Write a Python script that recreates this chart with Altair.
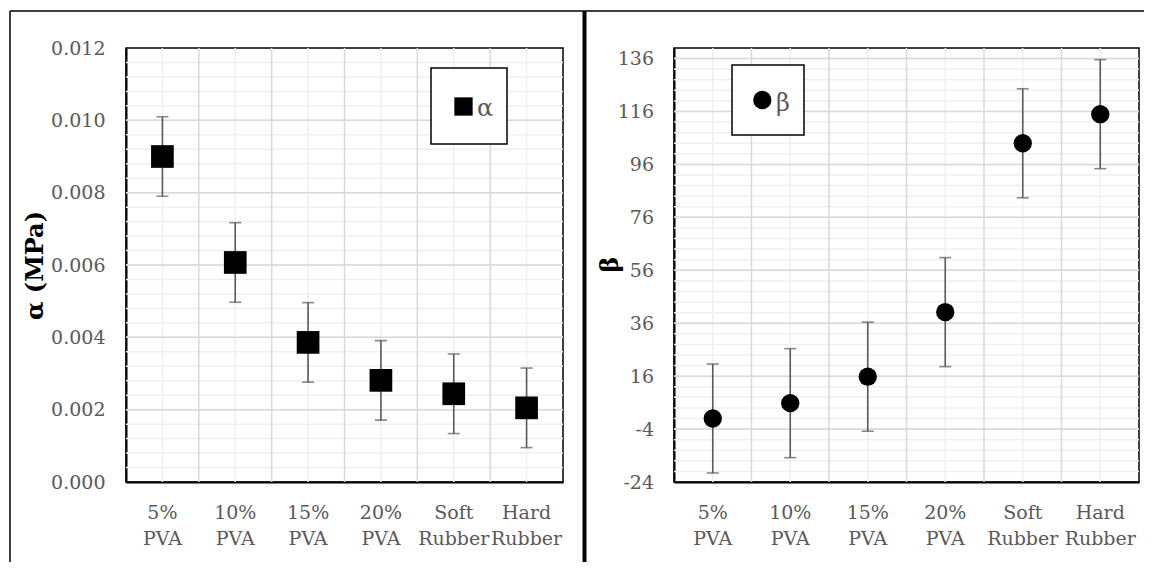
import altair as alt
import pandas as pd

categories = ["5% PVA", "10% PVA", "15% PVA", "20% PVA", "Soft Rubber", "Hard Rubber"]
alpha_values = [0.0090, 0.00607, 0.00386, 0.00281, 0.00244, 0.00205]
alpha_errors = [0.0011, 0.0011, 0.0011, 0.0011, 0.0011, 0.0011]
beta_values = [0.0, 5.8, 15.8, 40.2, 104.0, 115.0]
beta_errors = [20.6, 20.6, 20.6, 20.6, 20.6, 20.6]

alpha_ticks = [0.000, 0.002, 0.004, 0.006, 0.008, 0.010, 0.012]
beta_ticks = [-24, -4, 16, 36, 56, 76, 96, 116, 136]
alpha_minor = [round(0.0004 * i, 4) for i in range(1, 30)]
beta_minor = [-24 + 4 * i for i in range(1, 41)]

FONT = "DejaVu Serif"
GRAY = "#595959"
LABEL_SIZE = 19


def panel(values, errors, domain, ticks, minor, label_expr, title, title_x, title_y,
          label_pad, width, point_mark, legend_box, legend_pt, legend_txt, legend_label,
          frame_rules):
    df = pd.DataFrame({
        "cat": categories,
        "value": values,
        "lo": [v - e for v, e in zip(values, errors)],
        "hi": [v + e for v, e in zip(values, errors)],
    })
    ysc = alt.Scale(domain=domain, nice=False, zero=False)
    xsc = alt.Scale(type="band", paddingInner=0, paddingOuter=0)
    base = alt.Chart(df)

    x_axis = alt.Axis(
        title=None, labelExpr="split(datum.label, ' ')", labelAngle=0,
        labelFontSize=LABEL_SIZE, labelColor=GRAY, labelFont=FONT, labelPadding=21,
        labelLineHeight=26.5, labelBaseline="top", labelOverlap=False,
        ticks=False, grid=False, domain=True,
        domainColor="black", domainWidth=2)
    y_axis = alt.Axis(
        values=ticks, labelExpr=label_expr, title=title, labelFontSize=LABEL_SIZE,
        labelColor=GRAY, labelFont=FONT, labelPadding=label_pad, ticks=False,
        grid=False, domain=True, domainColor="black", domainWidth=2,
        titleFontSize=24, titleFontWeight="bold", titleColor="black",
        titleFont=FONT, titleX=title_x, titleY=title_y, titleBaseline="middle",
        titleAngle=270, titleAlign="center", labelOverlap=False)

    def X(**kw):
        return alt.X("cat:N", sort=categories, scale=xsc, axis=x_axis, title=None, **kw)

    def Y(field):
        return alt.Y(field, scale=ysc, axis=y_axis, title=title)

    minor_grid = alt.Chart(pd.DataFrame({"g": minor})).mark_rule(
        color="#efefef", strokeWidth=1.5).encode(y=Y("g:Q"))
    minor_xgrid = base.mark_rule(color="#efefef", strokeWidth=1.5).encode(x=X())
    inner_ticks = [t for t in ticks if domain[0] < t < domain[1]]
    major_grid = alt.Chart(pd.DataFrame({"g": inner_ticks})).mark_rule(
        color="#d9d9d9", strokeWidth=1.5).encode(y=Y("g:Q"))
    major_xgrid = alt.Chart(pd.DataFrame({"cat": categories[1:]})).mark_rule(
        color="#d9d9d9", strokeWidth=1.5).encode(x=X(bandPosition=0))

    err = base.mark_rule(color=GRAY, strokeWidth=1.6).encode(
        x=X(), y=Y("lo:Q"), y2="hi:Q")
    cap_lo = base.mark_tick(color=GRAY, thickness=1.6, size=12).encode(
        x=X(), y=Y("lo:Q"))
    cap_hi = base.mark_tick(color=GRAY, thickness=1.6, size=12).encode(
        x=X(), y=Y("hi:Q"))

    pts = point_mark(base).encode(x=X(), y=Y("value:Q"))

    one = alt.Chart(pd.DataFrame({"k": [0]}))
    bx0, bx1, by0, by1 = legend_box
    lbox = one.mark_rect(fill="white", stroke="black", strokeWidth=1.5).encode(
        x=alt.value(bx0), x2=alt.value(bx1), y=alt.value(by0), y2=alt.value(by1))
    lpt = legend_pt(one)
    tx, ty = legend_txt
    ltxt = one.mark_text(font=FONT, fontSize=24, color=GRAY, align="left",
                         baseline="alphabetic").encode(
        x=alt.value(tx), y=alt.value(ty), text=alt.value(legend_label))

    frames = []
    for r in frame_rules:
        if r[0] == "v":
            _, x, y0, y1, sw = r
            frames.append(one.mark_rule(color="black", strokeWidth=sw).encode(
                x=alt.value(x), y=alt.value(y0), y2=alt.value(y1)))
        else:
            _, y, x0, x1, sw = r
            frames.append(one.mark_rule(color="black", strokeWidth=sw).encode(
                y=alt.value(y), x=alt.value(x0), x2=alt.value(x1)))

    return alt.layer(minor_grid, minor_xgrid, major_grid, major_xgrid, err, cap_lo,
                     cap_hi, pts, lbox, lpt, ltxt, *frames).properties(
        width=width, height=434)


left = panel(
    alpha_values, alpha_errors, [0, 0.012], alpha_ticks, alpha_minor,
    "format(datum.value, '.3f')", "α (MPa)",
    -91, 217, 21, 437,
    lambda b: b.mark_square(size=515, color="black", opacity=1),
    (305, 381, 20, 96),
    lambda o: o.mark_square(size=335, color="black", opacity=1).encode(
        x=alt.value(337.5), y=alt.value(58.5)),
    (351, 68), "α",
    [("v", -116, -37, 514, 1.5), ("h", -37, -116, 458.5, 1.5), ("v", 458.5, -37, 514, 4)],
)

right = panel(
    beta_values, beta_errors, [-24, 140], beta_ticks, beta_minor,
    "'' + datum.value", "β",
    -63.5, 216, 20.5, 465,
    lambda b: b.mark_circle(size=336, color="black", opacity=1),
    (58, 130, 17, 87),
    lambda o: o.mark_circle(size=336, color="black", opacity=1).encode(
        x=alt.value(88.3), y=alt.value(52)),
    (102, 63), "β",
    [("h", -37, -89.5, 470, 1.5)],
)

chart = alt.hconcat(left, right, spacing=111, bounds="flush", padding=0).configure(
    font=FONT
).configure_view(stroke="black", strokeWidth=1.5)

chart.save("out.html", embed_options={"renderer": "svg", "actions": False})
